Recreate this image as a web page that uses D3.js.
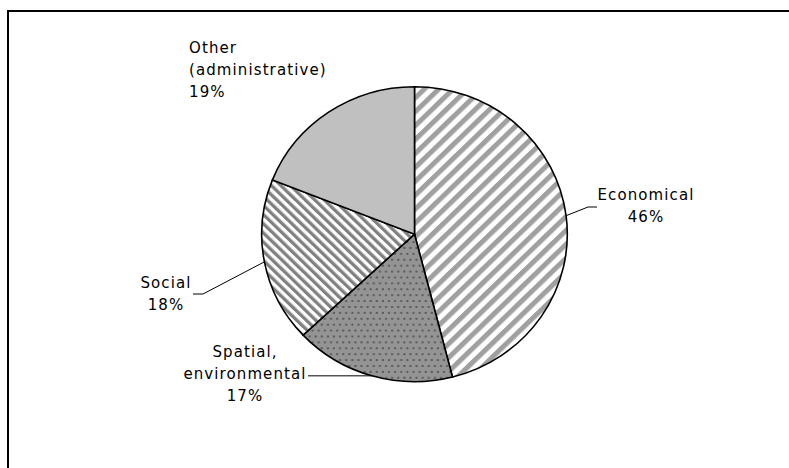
<!DOCTYPE html>
<html>
<head>
<meta charset="utf-8">
<script src="https://cdn.jsdelivr.net/npm/d3@7"></script>
<style>
  body { margin: 0; background: #fff; }
  svg text { font-family: "DejaVu Sans", Verdana, sans-serif; font-size: 15px; letter-spacing: 1.1px; fill: #000; }
</style>
</head>
<body>
<svg id="chart" width="789" height="468"></svg>
<script>
// slices, clockwise from 12 o'clock
const categories = ["Economical", "Spatial, environmental", "Social", "Other (administrative)"];
const shares = [46, 17, 18, 19];
const labelLines = [["Economical"], ["Spatial,", "environmental"], ["Social"], ["Other", "(administrative)"]];
const fills = ["url(#stripeUp)", "url(#dots)", "url(#stripeDown)", "#c0c0c0"];

var svg = d3.select("#chart");

// outer frame (runs off the right and bottom edge)
svg.append("rect")
  .attr("x", 8).attr("y", 11)
  .attr("width", 800).attr("height", 480)
  .attr("fill", "none").attr("stroke", "#000").attr("stroke-width", 2);

var defs = svg.append("defs");

function stripes(id, angle, size, band, color) {
  var p = defs.append("pattern")
    .attr("id", id)
    .attr("patternUnits", "userSpaceOnUse")
    .attr("width", size).attr("height", size)
    .attr("patternTransform", "rotate(" + angle + ")");
  p.append("rect").attr("width", size).attr("height", size).attr("fill", "#fff");
  p.append("rect").attr("width", band).attr("height", size).attr("fill", color);
}
stripes("stripeUp", 45, 10, 5, "#a0a0a0");
stripes("stripeDown", -45, 6.6, 3.3, "#808080");

var dots = defs.append("pattern")
  .attr("id", "dots")
  .attr("patternUnits", "userSpaceOnUse")
  .attr("width", 6).attr("height", 12);
dots.append("rect").attr("width", 6).attr("height", 12).attr("fill", "#949494");
dots.append("rect").attr("x", 1).attr("y", 1).attr("width", 2).attr("height", 2).attr("fill", "#5a5a5a");
dots.append("rect").attr("x", 4).attr("y", 7).attr("width", 2).attr("height", 2).attr("fill", "#5a5a5a");

var cx = 414.5, cy = 234.2, rx = 152.8, ry = 147.5, r = 150;

var pie = d3.pie().sort(null).value(function(d) { return d; });
var arcs = pie(shares);
var arc = d3.arc().innerRadius(0).outerRadius(r);

var g = svg.append("g")
  .attr("transform", "translate(" + cx + "," + cy + ") scale(" + (rx / r) + "," + (ry / r) + ")");

g.selectAll("path")
  .data(arcs)
  .enter().append("path")
  .attr("d", arc)
  .attr("fill", function(d, i) { return fills[i]; })
  .attr("stroke", "#000")
  .attr("stroke-width", 1.6)
  .attr("vector-effect", "non-scaling-stroke")
  .append("title").text(function(d, i) { return categories[i] + " " + shares[i] + "%"; });

// point on the rim at the middle of a slice
function rimPoint(d) {
  var a = (d.startAngle + d.endAngle) / 2;
  return [cx + rx * Math.sin(a), cy - ry * Math.cos(a)];
}

// label placement: anchor, x, first baseline, elbow points for leader
var labelLayout = [
  { anchor: "middle", x: 646, y: 200, leader: [[588, 207], [597, 207]] },
  { anchor: "middle", x: 245, y: 357, leader: [[308, 376]] },
  { anchor: "middle", x: 166, y: 288, leader: [[203, 294], [193, 294]] },
  { anchor: "start", x: 189, y: 53, leader: null }
];
var lineH = 22;

arcs.forEach(function(d, i) {
  var lay = labelLayout[i];
  var lines = labelLines[i].concat([shares[i] + "%"]);
  var t = svg.append("text").attr("text-anchor", lay.anchor);
  lines.forEach(function(s, k) {
    t.append("tspan").attr("x", lay.x).attr("y", lay.y + k * lineH).text(s);
  });
  if (lay.leader) {
    var p0 = rimPoint(d);
    var pts = [p0].concat(lay.leader);
    if (lay.leader.length === 1) pts[1] = [lay.leader[0][0], p0[1]];
    svg.append("path")
      .attr("d", d3.line()(pts))
      .attr("fill", "none")
      .attr("stroke", "#000")
      .attr("stroke-width", 1);
  }
});
</script>
</body>
</html>
